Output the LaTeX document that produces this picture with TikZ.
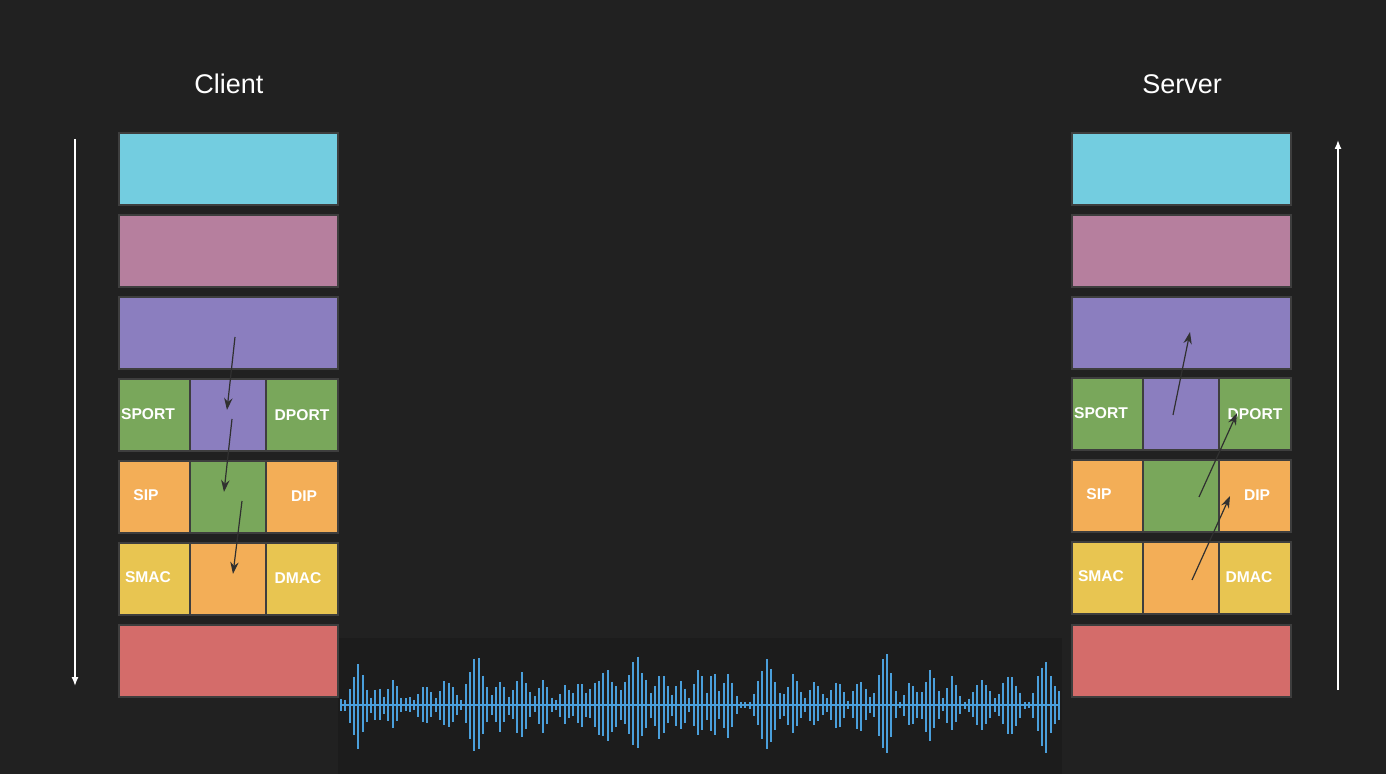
\documentclass[tikz,border=0pt]{standalone}
\usepackage{fontspec}
\setmainfont{Liberation Sans}
\usetikzlibrary{arrows.meta}
\definecolor{bgc}{HTML}{212121}
\definecolor{wavebg}{HTML}{1C1C1C}
\definecolor{cyanc}{HTML}{73CDE0}
\definecolor{pinkc}{HTML}{B67F9E}
\definecolor{purpc}{HTML}{8B7EBF}
\definecolor{greenc}{HTML}{79A75B}
\definecolor{orangec}{HTML}{F3AE57}
\definecolor{yellowc}{HTML}{E8C551}
\definecolor{redc}{HTML}{D46C6A}
\definecolor{borderc}{HTML}{3E3E3E}
\definecolor{wavec}{HTML}{4A9FDB}
\definecolor{arrc}{HTML}{303030}
\tikzset{
  layer/.style={draw=borderc, line width=1pt, inner sep=0pt, outer sep=0pt, minimum height=36pt},
  wide/.style={layer, minimum width=109.5pt},
  cella/.style={layer, minimum width=35.5pt},
  cellb/.style={layer, minimum width=38pt},
  cellc/.style={layer, minimum width=36pt},
  lbl/.style={text=white, font=\fontsize{7.8pt}{9pt}\selectfont\bfseries, inner sep=0pt},
  title/.style={text=white, font=\fontsize{13.5pt}{16pt}\selectfont, inner sep=0pt},
  flow/.style={draw=arrc, line width=0.6pt, -{Stealth[length=6pt,width=4.2pt]}},
  dirarrow/.style={draw=white, line width=0.7pt, -{Latex[length=4.5pt,width=3.5pt]}},
  wave/.style={draw=wavec, line width=1pt}
}
\begin{document}
\begin{tikzpicture}[x=0.5pt,y=-0.5pt]
\fill[bgc] (0,0) rectangle (1386,774);
\useasboundingbox (0,0) rectangle (1386,774);
% waveform background
\fill[wavebg] (338,638) rectangle (1062,774);

% titles
\node[title] (client) at (229,84) {Client};
\node[title] (server) at (1182,84) {Server};

% client stack
\node[wide, fill=cyanc] (c1) at (228.5,169) {};
\node[wide, fill=pinkc] (c2) at (228.5,251) {};
\node[wide, fill=purpc] (c3) at (228.5,333) {};
\node[cella, fill=greenc] (c4a) at (154.5,415) {};
\node[cellb, fill=purpc] (c4b) at (228,415) {};
\node[cellc, fill=greenc] (c4c) at (302,415) {};
\node[cella, fill=orangec] (c5a) at (154.5,497) {};
\node[cellb, fill=greenc] (c5b) at (228,497) {};
\node[cellc, fill=orangec] (c5c) at (302,497) {};
\node[cella, fill=yellowc] (c6a) at (154.5,579) {};
\node[cellb, fill=orangec] (c6b) at (228,579) {};
\node[cellc, fill=yellowc] (c6c) at (302,579) {};
\node[wide, fill=redc] (c7) at (228.5,661) {};

\node[lbl] (csport) at (148,414) {SPORT};
\node[lbl] (cdport) at (302,415) {DPORT};
\node[lbl] (csip) at (146,495) {SIP};
\node[lbl] (cdip) at (304,496) {DIP};
\node[lbl] (csmac) at (148,577) {SMAC};
\node[lbl] (cdmac) at (298,578) {DMAC};

% server stack
\node[wide, fill=cyanc] (s1) at (1181.5,169) {};
\node[wide, fill=pinkc] (s2) at (1181.5,251) {};
\node[wide, fill=purpc] (s3) at (1181.5,333) {};
\node[cella, fill=greenc] (s4a) at (1107.5,414) {};
\node[cellb, fill=purpc] (s4b) at (1181,414) {};
\node[cellc, fill=greenc] (s4c) at (1255,414) {};
\node[cella, fill=orangec] (s5a) at (1107.5,496) {};
\node[cellb, fill=greenc] (s5b) at (1181,496) {};
\node[cellc, fill=orangec] (s5c) at (1255,496) {};
\node[cella, fill=yellowc] (s6a) at (1107.5,578) {};
\node[cellb, fill=orangec] (s6b) at (1181,578) {};
\node[cellc, fill=yellowc] (s6c) at (1255,578) {};
\node[wide, fill=redc] (s7) at (1181.5,661) {};

\node[lbl] (ssport) at (1101,413) {SPORT};
\node[lbl] (sdport) at (1255,414) {DPORT};
\node[lbl] (ssip) at (1099,494) {SIP};
\node[lbl] (sdip) at (1257,495) {DIP};
\node[lbl] (ssmac) at (1101,576) {SMAC};
\node[lbl] (sdmac) at (1249,577) {DMAC};

% direction arrows
\coordinate (ltop) at (75,139);
\coordinate (lbot) at (75,686);
\coordinate (rbot) at (1338,690);
\coordinate (rtop) at (1338,140);
\draw[dirarrow] (ltop) -- (lbot);
\draw[dirarrow] (rbot) -- (rtop);

% client flow arrows
\coordinate (cf1s) at (235,337); \coordinate (cf1e) at (227,410);
\coordinate (cf2s) at (232,419); \coordinate (cf2e) at (224,492);
\coordinate (cf3s) at (242,501); \coordinate (cf3e) at (233,574);
\draw[flow] (cf1s) -- (cf1e);
\draw[flow] (cf2s) -- (cf2e);
\draw[flow] (cf3s) -- (cf3e);

% server flow arrows
\coordinate (sf1s) at (1173,415); \coordinate (sf1e) at (1190,332);
\coordinate (sf2s) at (1199,497); \coordinate (sf2e) at (1237,413);
\coordinate (sf3s) at (1192,580); \coordinate (sf3e) at (1230,496);
\draw[flow] (sf1s) -- (sf1e);
\draw[flow] (sf2s) -- (sf2e);
\draw[flow] (sf3s) -- (sf3e);

% waveform
\draw[wave, line width=0.9pt] (340,705) -- (1060,705);
\pgfmathsetseed{11}
\foreach \i in {0,...,167}{
  \pgfmathsetmacro\xx{341+4.3*\i}
  \gdef\env{4}
  \foreach \c/\a/\w in {343/8/10, 358/48/14, 378/20/12, 393/28/12, 408/10/10, 425/25/14, 447/30/16, 476/61/16, 500/28/14, 521/40/14, 543/31/12, 565/22/12, 580/28/12, 605/40/25, 636/54/20, 661/40/14, 680/32/12, 699/41/12, 713/41/10, 728/36/12, 746/4/5, 767/48/18, 793/33/14, 815/26/14, 837/28/14, 860/31/14, 885/61/14, 911/28/12, 930/40/14, 952/31/12, 982/28/18, 1010/39/16, 1045/54/16, 1058/20/6}{
    \pgfmathsetmacro\t{max(\env, \a*(1-abs(\xx-\c)/\w))}
    \xdef\env{\t}
  }
  \pgfmathsetmacro\up{\env*(0.8+0.2*rnd)}
  \pgfmathsetmacro\dn{\env*(0.8+0.2*rnd)}
  \draw[wave] ({\xx},{705-\up}) -- ({\xx},{705+\dn});
}
\end{tikzpicture}
\end{document}
